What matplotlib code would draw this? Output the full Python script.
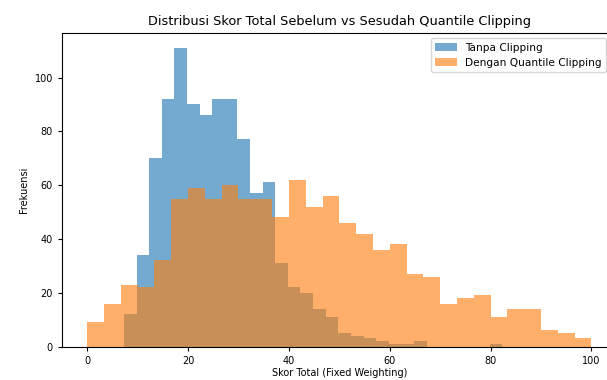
import matplotlib
matplotlib.use("Agg")
import matplotlib.pyplot as plt
import numpy as np

# histogram counts (30 bins each)
blue_range = (7.3, 82.3)
blue_counts = [12, 34, 70, 92, 111, 90, 86, 92, 92, 77,
               57, 61, 31, 22, 20, 14, 11, 5, 4, 3,
               2, 1, 1, 2, 0, 0, 0, 0, 0, 1]

orange_range = (0, 100)
orange_counts = [9, 16, 23, 22, 32, 55, 59, 55, 60, 55,
                 55, 48, 62, 52, 56, 46, 42, 36, 38, 27,
                 26, 16, 18, 19, 11, 14, 14, 6, 5, 3]

labels = ["Tanpa Clipping", "Dengan Quantile Clipping"]


def edges(rng, n):
    return np.linspace(rng[0], rng[1], n + 1)


fig = plt.figure(figsize=(6.07, 3.8), dpi=100)
ax = fig.add_axes([0.102, 0.088, 0.914, 0.825])

be = edges(blue_range, len(blue_counts))
oe = edges(orange_range, len(orange_counts))
ax.hist(be[:-1], bins=be, weights=blue_counts, alpha=0.62, label=labels[0])
ax.hist(oe[:-1], bins=oe, weights=orange_counts, alpha=0.62, label=labels[1])

ax.set_title("Distribusi Skor Total Sebelum vs Sesudah Quantile Clipping", fontsize=9.3)
ax.set_xlabel("Skor Total (Fixed Weighting)", fontsize=7, labelpad=2)
ax.set_ylabel("Frekuensi", fontsize=7)
ax.tick_params(labelsize=7, length=3)
ax.legend(fontsize=7.6, loc="upper right", bbox_to_anchor=(0.99, 1.0))

fig.savefig("out.png", dpi=100)
